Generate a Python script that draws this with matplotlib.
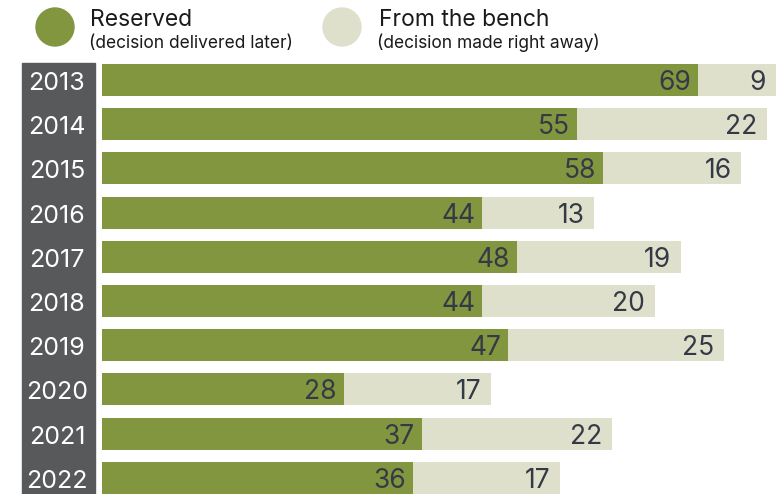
import matplotlib.pyplot as plt
from matplotlib.patches import Circle, Rectangle

years = ["2013", "2014", "2015", "2016", "2017", "2018", "2019", "2020", "2021", "2022"]
reserved = [69, 55, 58, 44, 48, 44, 47, 28, 37, 36]
bench = [9, 22, 16, 13, 19, 20, 25, 17, 22, 17]

GREEN = "#82963f"
LIGHT = "#dfe0cc"
BAND = "#58595b"
TEXT = "#333a45"

W, H = 783, 494
plt.rcParams["font.family"] = ["Inter", "DejaVu Sans"]

fig = plt.figure(figsize=(W / 100, H / 100), dpi=100)

# bar area: left edge at x=102px, bar centres from 80px to 478px
step = 44.2
ax = fig.add_axes([102 / W, 0, 1 - 102 / W, 1])
ax.set_xlim(0, (W - 102) / 8.64)
ax.set_ylim((H - 80) / step, -80 / step)
ax.axis("off")

pos = list(range(len(years)))
ax.barh(pos, reserved, height=0.72, color=GREEN)
ax.barh(pos, bench, left=reserved, height=0.72, color=LIGHT)

for i, (r, b) in enumerate(zip(reserved, bench)):
    ax.annotate(str(r), (r, i), xytext=(-5, 0), textcoords="offset points",
                ha="right", va="center_baseline", fontsize=19, color=TEXT)
    ax.annotate(str(b), (r + b, i), xytext=(-7, 0), textcoords="offset points",
                ha="right", va="center_baseline", fontsize=19, color=TEXT)

# year band
fig.patches.append(Rectangle((22 / W, 0), (95 - 22) / W, 1 - 63 / H,
                             transform=fig.transFigure, color=BAND, zorder=0))
for i, y in enumerate(years):
    ypx = 81 + step * i
    fig.text(57 / W, 1 - ypx / H, y, ha="center", va="center_baseline",
             fontsize=18, color="white")

# legend (circles sized in inches so they stay round)
for cx, col in [(55, GREEN), (342, LIGHT)]:
    fig.patches.append(Circle((cx / 100, (H - 27) / 100), 0.19,
                              transform=fig.dpi_scale_trans, color=col))
fig.text(90 / W, 1 - 18 / H, "Reserved", ha="left", va="center_baseline",
         fontsize=16.5, color="#1a1a1a")
fig.text(89 / W, 1 - 41 / H, "(decision delivered later)", ha="left", va="center_baseline",
         fontsize=12.5, color="#1a1a1a")
fig.text(379 / W, 1 - 18 / H, "From the bench", ha="left", va="center_baseline",
         fontsize=16.5, color="#1a1a1a")
fig.text(377 / W, 1 - 41 / H, "(decision made right away)", ha="left", va="center_baseline",
         fontsize=12.5, color="#1a1a1a")

fig.savefig("out.png", dpi=100)
